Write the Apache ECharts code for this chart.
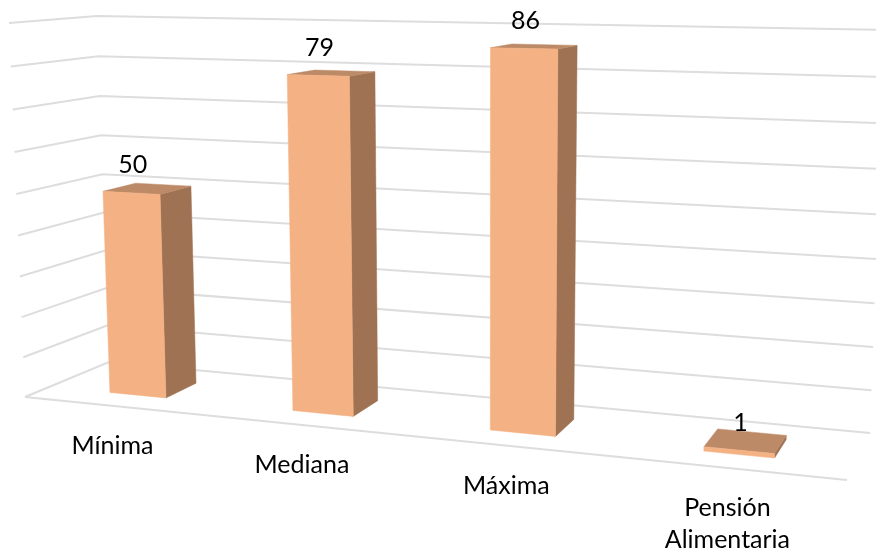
<!DOCTYPE html>
<html>
<head>
<meta charset="utf-8">
<style>html,body{margin:0;padding:0;background:#fff}#c{width:876px;height:557px}</style>
<script src="https://cdn.jsdelivr.net/npm/echarts@6/dist/echarts.min.js"></script>
</head>
<body>
<div id="c"></div>
<script>
const categories = ['Mínima', 'Mediana', 'Máxima', 'Pensión\nAlimentaria'];
const values = [50, 79, 86, 1];
const yTicks = [0, 10, 20, 30, 40, 50, 60, 70, 80, 90];

// Box of the 3-D scene as seen in the picture (f=front, b=back, B=bottom, T=top, L=left, R=right)
const BOX = {
  fBL: [25, 397], bBL: [109, 362], bBR: [870, 433], fBR: [847, 480],
  fTL: [9, 23], bTL: [97, 16], bTR: [884, 30], fTR: [859, 38]
};
const PERSP_X = 0.856, PERSP_Y = 0.95;
const BAR_FRAC = 0.314, DEPTH_FRONT = 0.3, DEPTH_BACK = 0.7;
const FONT = 'Lato', FONT_SIZE = 25;
const COL_FRONT = '#F4B183', COL_TOP = '#BC8A67', COL_SIDE = '#9E7252', COL_GRID = '#DDDDDD', COL_TEXT = '#000';

const lerp = (a, b, t) => a + (b - a) * t;
const warp = (t, k) => k * t / (1 + (k - 1) * t);
function project(t, v, w) {
  const u = warp(t, PERSP_X), h = warp(v, PERSP_Y), p = [];
  for (let i = 0; i < 2; i++) {
    const bottom = lerp(lerp(BOX.fBL[i], BOX.fBR[i], u), lerp(BOX.bBL[i], BOX.bBR[i], u), w);
    const top = lerp(lerp(BOX.fTL[i], BOX.fTR[i], u), lerp(BOX.bTL[i], BOX.bTR[i], u), w);
    p.push(lerp(bottom, top, h));
  }
  return p;
}
const poly = (points, fill) => ({ type: 'polygon', shape: { points }, style: { fill, stroke: fill, lineWidth: 0.5 }, silent: true });
const line = points => ({ type: 'polyline', shape: { points }, style: { fill: null, stroke: COL_GRID, lineWidth: 2 }, silent: true });

function renderGrid(params, api) {
  const cs = params.coordSys;
  const v = (cs.y + cs.height - api.coord([0, api.value(1)])[1]) / cs.height;
  const children = [line([project(0, v, 0), project(0, v, 1), project(1, v, 1)])];
  if (v === 0) children.push(line([project(0, 0, 0), project(1, 0, 0)]));
  return { type: 'group', children };
}

function renderBar(params, api) {
  const cs = params.coordSys;
  const i = api.value(0);
  const c = api.coord([i, api.value(1)]);
  const band = api.size([1, 0])[0];
  const t0 = (c[0] - band * BAR_FRAC / 2 - cs.x) / cs.width;
  const t1 = (c[0] + band * BAR_FRAC / 2 - cs.x) / cs.width;
  const tc = (c[0] - cs.x) / cs.width;
  const v = (cs.y + cs.height - c[1]) / cs.height;
  const d0 = DEPTH_FRONT, d1 = DEPTH_BACK;
  const labelAt = project((t0 + t1) / 2, v, d0);
  const catAt = project(tc, 0, 0);
  const textStyle = { fontFamily: FONT, fontSize: FONT_SIZE, fill: COL_TEXT };
  return {
    type: 'group',
    children: [
      poly([project(t1, 0, d0), project(t1, 0, d1), project(t1, v, d1), project(t1, v, d0)], COL_SIDE),
      poly([project(t0, v, d0), project(t0, v, d1), project(t1, v, d1), project(t1, v, d0)], COL_TOP),
      poly([project(t0, 0, d0), project(t1, 0, d0), project(t1, v, d0), project(t0, v, d0)], COL_FRONT),
      { type: 'text', silent: true, style: Object.assign({ text: String(api.value(1)), x: labelAt[0] + 1.5, y: labelAt[1] - 27.5, align: 'center', verticalAlign: 'middle' }, textStyle) },
      { type: 'text', silent: true, style: Object.assign({ text: categories[i], x: catAt[0] - 2, y: catAt[1] + 24, align: 'center', verticalAlign: 'top', lineHeight: 32 }, textStyle) }
    ]
  };
}

const chart = echarts.init(document.getElementById('c'));
chart.setOption({
  animation: false,
  backgroundColor: '#fff',
  grid: { left: 0, right: 0, top: 0, bottom: 0 },
  xAxis: { type: 'category', data: categories, show: false },
  yAxis: { type: 'value', min: 0, max: 90, interval: 10, show: false },
  series: [
    { type: 'custom', clip: false, z: 1, renderItem: renderGrid, data: yTicks.map(t => [0, t]), encode: { x: 0, y: 1 } },
    { type: 'custom', clip: false, z: 2, renderItem: renderBar, data: values.map((v, i) => [i, v]), encode: { x: 0, y: 1 } }
  ]
});
</script>
</body>
</html>
